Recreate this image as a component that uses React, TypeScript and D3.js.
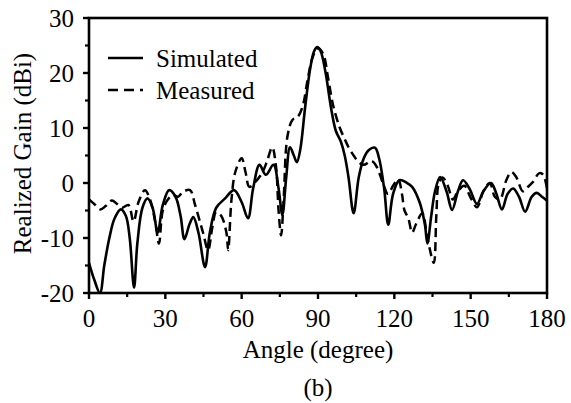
import React from "react";
import * as d3 from "d3";

// simulated realized gain (angle in degree, gain in dBi)
const simAngle = [
  0, 2, 4.3, 6, 8, 10, 12.5, 14.5, 16, 17.7, 19, 21, 23, 25, 27, 29, 31.5, 34, 36, 37.5, 39.5, 41, 43, 45.6,
  47.5, 50, 53.5, 57, 60, 62.5, 64.5, 67, 69.5, 72.5, 74.5, 76, 77.5, 79, 80.5, 81.7, 83, 85, 87, 88.5, 89.7,
  91, 93, 95, 97, 99, 100.5, 102, 104, 106, 108, 110, 112.4, 114, 116, 117.6, 119.5, 122, 125, 127, 130, 132,
  133, 134.5, 136, 138, 140.5, 142.7, 145, 147, 149.5, 152.5, 155, 158, 160, 162.3, 164.5, 166.7, 169, 171.4,
  174, 176, 178, 180,
];
const simGain = [
  -14.5, -17.5, -20, -15, -10, -6.5, -4.8, -6, -10, -19, -11, -4.5, -2.8, -4.5, -9, -4, -1.3, -2.5, -6, -10.2,
  -7.5, -6.2, -9, -15.3, -9, -4.5, -2.8, -1.3, -3.5, -6.4, -1, 3.3, 1.5, 3.3, -1, -5.8, 1, 6.5, 5, 3.8, 6, 14,
  21, 24, 24.7, 24, 20, 14, 9.5, 7.5, 5, 1, -5.5, 1, 4.5, 6, 6.4, 4.5, -1, -7.6, -2, 0.5, 0, -0.7, -3.6, -7.5,
  -11, -6, -1.5, 1.1, -1.5, -4.9, -1.5, 0.5, -1, -3.8, -1.5, 0, -1.8, -4.8, -2, -1, -2.5, -5.2, -2.5, -1.8,
  -2.5, -3.2,
];

// measured realized gain
const measAngle = [
  0, 2.5, 4.5, 6.5, 9, 11, 13, 15.5, 17.5, 19.5, 22, 24, 26, 27.5, 29, 31, 33, 35, 37, 39.7, 41.7, 44.8, 46.8,
  48.5, 50, 52, 54, 54.7, 56, 57.5, 60, 61.5, 63, 65, 68, 70, 72, 73.5, 74.5, 75.5, 76.5, 78, 80, 82, 84, 86,
  88, 90, 92, 94, 96, 98.6, 100.5, 102, 104, 106, 108, 111, 113, 115.5, 117.5, 119.5, 121.5, 123, 124, 125.5,
  127, 128.5, 131, 133, 135.5, 136.5, 137.5, 139, 141, 143, 145, 147.5, 150, 152.5, 155, 157.5, 159.5, 161.5,
  164, 166, 168, 170.5, 172.5, 174.5, 177, 178.5, 180,
];
const measGain = [
  -3, -4, -4.8, -4.2, -3.2, -3.8, -4.5, -4, -7, -3.4, -1.3, -3, -7, -11, -5, -3, -2.2, -2.5, -1.6, -1.3, -4,
  -9, -12.2, -8, -5.3, -6, -9, -12.2, -3, 2, 4.5, 2, -0.7, 0, 1.8, 4, 6.5, 3, -5, -9.5, -3, 8.5, 11.5, 12, 14,
  19, 23, 24.5, 23.5, 19, 14, 10, 8, 6.5, 5, 3.8, 3.3, 4, 3, 0, -2, -0.5, 0.7, -2, -5, -6.4, -9, -7.5, -5.5,
  -10, -14.5, -6, 0, 1, -0.5, -3, -1.5, -0.5, -2.7, -4.4, -1.5, 0, -2.5, -3, 0.5, 2, 1, -1.5, -0.7, 0.2, 1.8,
  1.5, -1,
];

const xTicks = [0, 30, 60, 90, 120, 150, 180];
const yTicks = [-20, -10, 0, 10, 20, 30];
const xMinor = [15, 45, 75, 105, 135, 165];
const yMinor = [-15, -5, 5, 15, 25];
const legendLabels = ["Simulated", "Measured"];

const W = 571;
const H = 403;
const M = { left: 89, right: 24, top: 18, bottom: 110 };
const FONT = "Liberation Serif";
const textStyle: React.CSSProperties = { fontFamily: "'Liberation Serif', 'Times New Roman', serif", fontSize: "25px" };

const x = d3.scaleLinear().domain([0, 180]).range([M.left, W - M.right]);
const y = d3.scaleLinear().domain([-20, 30]).range([H - M.bottom, M.top]);

const line = d3
  .line<[number, number]>()
  .x((d) => x(d[0]))
  .y((d) => y(d[1]))
  .curve(d3.curveCatmullRom.alpha(0.5));

const sim = simAngle.map((a, i) => [a, simGain[i]] as [number, number]);
const meas = measAngle.map((a, i) => [a, measGain[i]] as [number, number]);

function Label(props: { x?: number; y?: number; anchor?: string; transform?: string; children: React.ReactNode }) {
  return (
    <text
      x={props.x}
      y={props.y}
      transform={props.transform}
      textAnchor={props.anchor}
      fontFamily={FONT}
      fontSize={25}
      fill="#000"
      style={textStyle}
    >
      {props.children}
    </text>
  );
}

export default function App() {
  const bottom = H - M.bottom;
  const right = W - M.right;
  const cx = (M.left + right) / 2;
  return (
    <svg
      width={W}
      height={H}
      style={{ position: "absolute", left: 0, top: 0, background: "#fff", fontFamily: textStyle.fontFamily }}
    >
      <defs>
        <clipPath id="plot">
          <rect x={M.left} y={M.top - 2} width={right - M.left} height={bottom - M.top + 2} />
        </clipPath>
      </defs>

      <g clipPath="url(#plot)" fill="none" stroke="#000">
        <path d={line(meas) || ""} strokeWidth={2.5} strokeDasharray="9,5" />
        <path d={line(sim) || ""} strokeWidth={2.6} />
      </g>

      <rect
        x={M.left}
        y={M.top}
        width={right - M.left}
        height={bottom - M.top}
        fill="none"
        stroke="#000"
        strokeWidth={2.6}
      />

      {/* ticks */}
      <g stroke="#000">
        {xTicks.map((t) => (
          <line key={"xt" + t} x1={x(t)} x2={x(t)} y1={bottom} y2={bottom + 6} strokeWidth={2.4} />
        ))}
        {xMinor.map((t) => (
          <line key={"xm" + t} x1={x(t)} x2={x(t)} y1={bottom} y2={bottom + 4} strokeWidth={2.2} />
        ))}
        {yTicks.map((t) => (
          <line key={"yt" + t} x1={M.left - 6} x2={M.left} y1={y(t)} y2={y(t)} strokeWidth={2.4} />
        ))}
        {yMinor.map((t) => (
          <line key={"ym" + t} x1={M.left - 4} x2={M.left} y1={y(t)} y2={y(t)} strokeWidth={2.2} />
        ))}
      </g>

      {xTicks.map((t) => (
        <Label key={"xl" + t} x={x(t)} y={bottom + 34} anchor="middle">
          {t}
        </Label>
      ))}
      {yTicks.map((t) => (
        <Label key={"yl" + t} x={M.left - 15} y={y(t) + 8.5} anchor="end">
          {t}
        </Label>
      ))}
      <Label x={cx} y={358} anchor="middle">
        Angle (degree)
      </Label>
      <Label x={cx} y={396} anchor="middle">
        (b)
      </Label>
      <Label transform={`translate(31,${(M.top + bottom) / 2 - 2}) rotate(-90)`} anchor="middle">
        Realized Gain (dBi)
      </Label>

      {legendLabels.map((lab, i) => {
        const ly = 58 + i * 32;
        return (
          <g key={lab}>
            <line
              x1={108}
              x2={143}
              y1={ly}
              y2={ly}
              stroke="#000"
              strokeWidth={2.6}
              strokeDasharray={i === 1 ? "10,6" : undefined}
            />
            <Label x={156} y={ly + 9}>
              {lab}
            </Label>
          </g>
        );
      })}
    </svg>
  );
}
